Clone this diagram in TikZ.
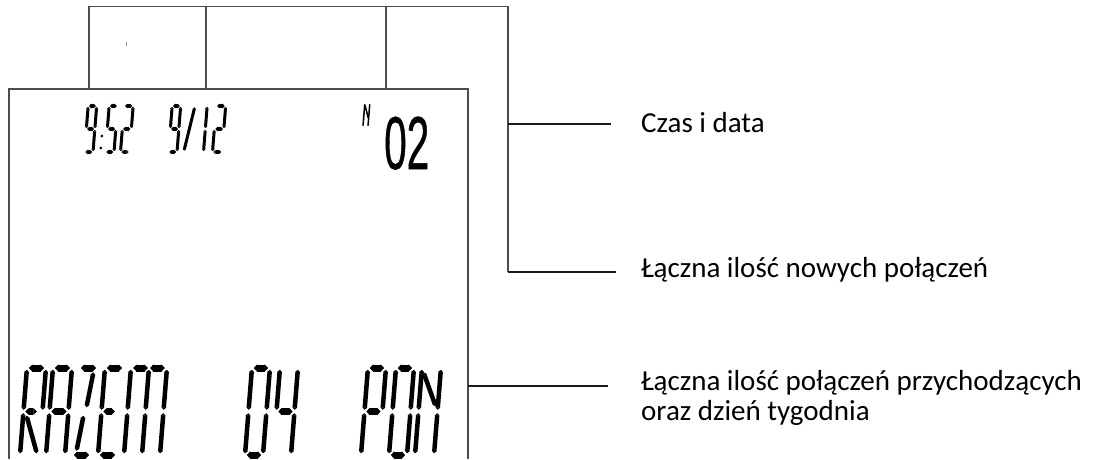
\documentclass[tikz,border=0pt]{standalone}
\usepackage{fontspec}
\setmainfont{Carlito}
\newfontfamily\digitfont[FakeBold=0.8]{Liberation Sans}
\usetikzlibrary{arrows.meta}

\def\lcdh{7pt}
\def\lcdv{4.5pt}
\tikzset{
  frame/.style={black!70, line width=1.2pt},
  callout/.style={black!90, line width=1.2pt},
  lbl/.style={inner sep=0pt, font=\fontsize{29}{30}\selectfont},
  lcdseg/.style={{Triangle[width=0pt 1,length=0pt 0.5]}-{Triangle[width=0pt 1,length=0pt 0.5]}},
  hseg/.style={line width=\lcdh},
  vseg/.style={line width=\lcdv}
}

\newcommand\lcdsegdef[2]{\expandafter\def\csname lcd-#1\endcsname{#2}}
\lcdsegdef{a}{[hseg] (0.1,1)--(0.9,1)}
\lcdsegdef{a1}{[hseg] (0.06,1)--(0.47,1)}
\lcdsegdef{a2}{[hseg] (0.53,1)--(0.94,1)}
\lcdsegdef{b}{[vseg] (1,0.98)--(1,0.52)}
\lcdsegdef{c}{[vseg] (1,0.48)--(1,0.02)}
\lcdsegdef{d}{[hseg] (0.1,0)--(0.9,0)}
\lcdsegdef{e}{[vseg] (0,0.02)--(0,0.48)}
\lcdsegdef{f}{[vseg] (0,0.52)--(0,0.98)}
\lcdsegdef{g}{[hseg] (0.1,0.5)--(0.9,0.5)}
\lcdsegdef{h}{[hseg] (0.1,0.5)--(0.7,0.5)}
\lcdsegdef{k}{[vseg] (0.1,0.95)--(0.88,0.56)}
\lcdsegdef{u}{[vseg] (0.78,0.95)--(0.56,0.55)}
\lcdsegdef{v}{[vseg] (0.44,0.45)--(0.22,0.05)}
\lcdsegdef{q}{[vseg] (0.18,0.45)--(0.88,0.02)}
\lcdsegdef{m}{[vseg] (0.5,0.98)--(0.5,0.52)}
\lcdsegdef{n}{[vseg] (0.5,0.48)--(0.5,0.02)}
\lcdsegdef{s}{[vseg] (0.1,0.03)--(0.9,0.97)}
\lcdsegdef{lv}{[vseg] (0,0)--(0,1)}
\lcdsegdef{rv}{[vseg] (1,0)--(1,1)}
\lcdsegdef{nd}{[vseg] (0.05,0.95)--(0.95,0.35)}

\newcommand\lcddraw[1]{\draw[lcdseg] #1;}
\newcommand\lcdchar[5]{%
  \begin{scope}[shift={(#1,#2)}, xslant=0.08, x=#3pt, y=#4pt]
    \foreach \s in {#5}{\expandafter\lcddraw\csname lcd-\s\endcsname}
  \end{scope}}

\begin{document}
\begin{tikzpicture}[x=1pt, y=-1pt]
  \useasboundingbox (0,0) rectangle (1094,459);

  % frame of the display and the part above it
  \draw[frame] (9,459) |- (468,89) -- (468,459);
  \draw[frame] (89,89) |- (508,6.5) -- (508,272);
  \draw[frame] (206,89) -- (206,6.5);
  \draw[frame] (386,89) -- (386,6.5);
  \draw[black!45, line width=0.8pt] (126,42) -- (126,46);

  \coordinate (timeroot) at (508,124);
  \coordinate (newroot) at (508,272);
  \coordinate (totalroot) at (468,386);
  \coordinate (timeend) at (611,124);
  \coordinate (newend) at (616,272);
  \coordinate (totalend) at (608,386);

  \node[lbl, anchor=base west] (timelbl) at (641,132) {Czas i data};
  \node[lbl, anchor=base west] (newlbl) at (641,277) {Łączna ilość nowych połączeń};
  \node[lbl, anchor=base west] (totallbl) at (641,390) {Łączna ilość połączeń przychodzących};
  \node[lbl, anchor=base west] (daylbl) at (641,420) {oraz dzień tygodnia};

  \draw[callout] (timeroot) -- (timeend);
  \draw[callout] (newroot) -- (newend);
  \draw[callout] (totalroot) -- (totalend);

  % top row: 9:52 9/12
  \def\lcdh{4.5pt}
  \def\lcdv{3pt}
  \lcdchar{84.5}{152}{8.5}{46}{a,f,b,g,c,d}
  \fill (101.8,136) circle (1.5);
  \fill (100.8,148) circle (1.5);
  \lcdchar{105.5}{152}{8.5}{46}{a,f,g,c,d}
  \lcdchar{120.5}{152}{9}{46}{a,b,g,e,d}
  \lcdchar{168.5}{152}{8.5}{46}{a,f,b,g,c,d}
  \lcdchar{183}{152}{9}{46}{s}
  \lcdchar{195}{152}{8.5}{46}{b,c}
  \lcdchar{212.5}{152}{9.5}{46}{a,b,g,e,d}

  \def\lcdv{1.5pt}
  \lcdchar{363}{126}{5}{22}{lv,nd,rv}
  \node[inner sep=0pt, anchor=base west] (newcnt) at (384,169)
    {\scalebox{0.54}[1]{\digitfont\fontsize{75}{75}\selectfont 02}};

  % bottom row: RAZEM 04 PON
  \def\lcdh{7pt}
  \def\lcdv{4.5pt}
  \lcdchar{20}{455}{19}{87}{a,f,e,b,h,q}
  \lcdchar{46}{455}{19}{87}{a,b,c,e,f,g}
  \lcdchar{72}{455}{19}{87}{a,u,v,d}
  \lcdchar{98}{455}{19}{87}{a,f,e,h,d}
  \lcdchar{124}{455}{36}{87}{a1,a2,f,e,m,n,b,c}
  \lcdchar{245}{455}{18}{87}{a,b,c,d,e,f}
  \lcdchar{273}{455}{18}{87}{f,g,b,c}
  \lcdchar{361}{455}{18}{87}{a,b,f,e,g}
  \lcdchar{389}{455}{18}{87}{a,b,c,d,e,f}
  \lcdchar{415}{455}{19}{87}{f,e,k,b,c}
\end{tikzpicture}
\end{document}
